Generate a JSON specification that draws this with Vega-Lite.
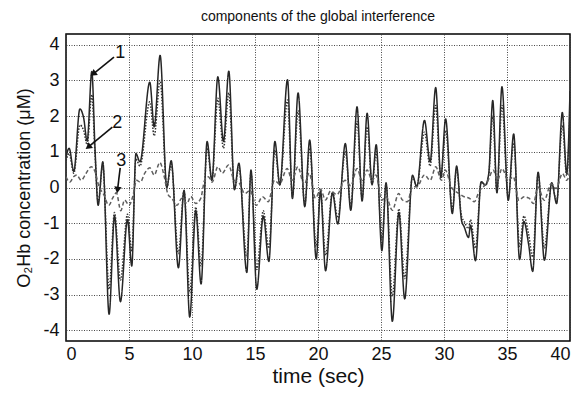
{
  "$schema": "https://vega.github.io/schema/vega-lite/v6.json",
  "autosize": {"type": "none"},
  "width": 504,
  "height": 307,
  "padding": {"left": 66, "top": 34, "right": 17, "bottom": 52},
  "background": "white",
  "title": {"text": "components of the global interference", "fontSize": 14, "font": "Liberation Sans", "fontWeight": "normal", "color": "#111", "offset": 10, "anchor": "middle"},
  "config": {
    "view": {"stroke": "black", "strokeWidth": 1.5},
    "axis": {"labelFont": "Liberation Sans", "titleFont": "Liberation Sans", "labelColor": "#111", "titleColor": "#111", "titleFontWeight": "normal", "gridColor": "#333", "gridDash": [1, 1.5], "gridWidth": 0.9, "gridOpacity": 1, "domain": false, "ticks": false, "labelOverlap": false},
    "axisX": {"grid": true, "tickCount": 12, "labelFontSize": 18, "labelPadding": 4, "titleFontSize": 21, "titlePadding": 2},
    "axisY": {"grid": true, "labelExpr": "'' + datum.value", "labelFontSize": 18, "labelPadding": 7, "titleFontSize": 18, "titlePadding": 9}
  },
  "datasets": {
    "lines": [
      {"t":0.0,"v":0.85,"s":"1"},{"t":0.25,"v":1.1,"s":"1"},{"t":0.62,"v":0.45,"s":"1"},{"t":1.1,"v":2.2,"s":"1"},{"t":1.4,"v":1.95,"s":"1"},{"t":1.68,"v":1.3,"s":"1"},{"t":2.05,"v":3.25,"s":"1"},{"t":2.3,"v":1.1,"s":"1"},{"t":2.55,"v":-0.5,"s":"1"},{"t":2.92,"v":0.72,"s":"1"},{"t":3.42,"v":-3.55,"s":"1"},{"t":3.85,"v":-0.8,"s":"1"},{"t":4.32,"v":-3.2,"s":"1"},{"t":4.88,"v":-0.9,"s":"1"},{"t":5.22,"v":-2.2,"s":"1"},{"t":5.55,"v":0.95,"s":"1"},{"t":5.87,"v":0.72,"s":"1"},{"t":6.65,"v":2.95,"s":"1"},{"t":7.0,"v":1.7,"s":"1"},{"t":7.47,"v":3.7,"s":"1"},{"t":8.0,"v":0.0,"s":"1"},{"t":8.35,"v":0.75,"s":"1"},{"t":8.92,"v":-2.25,"s":"1"},{"t":9.37,"v":-0.08,"s":"1"},{"t":9.82,"v":-3.63,"s":"1"},{"t":10.3,"v":-0.64,"s":"1"},{"t":10.72,"v":-2.7,"s":"1"},{"t":11.2,"v":1.29,"s":"1"},{"t":11.58,"v":0.2,"s":"1"},{"t":12.05,"v":3.1,"s":"1"},{"t":12.5,"v":1.29,"s":"1"},{"t":12.92,"v":3.26,"s":"1"},{"t":13.37,"v":-0.06,"s":"1"},{"t":13.72,"v":0.68,"s":"1"},{"t":14.35,"v":-2.38,"s":"1"},{"t":14.68,"v":0.49,"s":"1"},{"t":15.14,"v":-2.85,"s":"1"},{"t":15.66,"v":-0.8,"s":"1"},{"t":16.1,"v":-2.07,"s":"1"},{"t":16.58,"v":1.29,"s":"1"},{"t":16.97,"v":0.07,"s":"1"},{"t":17.58,"v":3.02,"s":"1"},{"t":17.97,"v":-0.31,"s":"1"},{"t":18.42,"v":2.65,"s":"1"},{"t":18.95,"v":-0.54,"s":"1"},{"t":19.34,"v":1.33,"s":"1"},{"t":19.86,"v":-2.0,"s":"1"},{"t":20.2,"v":-0.1,"s":"1"},{"t":20.6,"v":-2.33,"s":"1"},{"t":21.15,"v":-0.15,"s":"1"},{"t":21.57,"v":-1.02,"s":"1"},{"t":22.17,"v":1.23,"s":"1"},{"t":22.6,"v":-0.64,"s":"1"},{"t":23.1,"v":2.26,"s":"1"},{"t":23.5,"v":-0.38,"s":"1"},{"t":23.9,"v":2.08,"s":"1"},{"t":24.29,"v":0.08,"s":"1"},{"t":24.62,"v":1.2,"s":"1"},{"t":25.07,"v":-1.77,"s":"1"},{"t":25.4,"v":0.13,"s":"1"},{"t":25.9,"v":-3.75,"s":"1"},{"t":26.42,"v":-0.7,"s":"1"},{"t":26.88,"v":-3.12,"s":"1"},{"t":27.5,"v":0.34,"s":"1"},{"t":27.84,"v":0.02,"s":"1"},{"t":28.45,"v":1.88,"s":"1"},{"t":28.9,"v":0.72,"s":"1"},{"t":29.34,"v":2.8,"s":"1"},{"t":29.75,"v":0.3,"s":"1"},{"t":30.13,"v":1.92,"s":"1"},{"t":30.66,"v":-0.73,"s":"1"},{"t":31.0,"v":0.6,"s":"1"},{"t":31.39,"v":-0.92,"s":"1"},{"t":31.6,"v":-1.1,"s":"1"},{"t":31.95,"v":-1.4,"s":"1"},{"t":32.1,"v":-1.06,"s":"1"},{"t":32.5,"v":-2.05,"s":"1"},{"t":32.95,"v":0.16,"s":"1"},{"t":33.29,"v":0.07,"s":"1"},{"t":33.55,"v":0.39,"s":"1"},{"t":33.87,"v":2.44,"s":"1"},{"t":34.2,"v":-0.15,"s":"1"},{"t":34.6,"v":2.82,"s":"1"},{"t":35.1,"v":-0.36,"s":"1"},{"t":35.53,"v":1.5,"s":"1"},{"t":36.0,"v":-2.02,"s":"1"},{"t":36.34,"v":-0.95,"s":"1"},{"t":36.71,"v":-1.58,"s":"1"},{"t":37.04,"v":-2.35,"s":"1"},{"t":37.47,"v":0.43,"s":"1"},{"t":37.97,"v":-2.04,"s":"1"},{"t":38.55,"v":0.13,"s":"1"},{"t":38.94,"v":-0.45,"s":"1"},{"t":39.39,"v":2.1,"s":"1"},{"t":39.74,"v":0.39,"s":"1"},{"t":40.0,"v":2.7,"s":"1"},

      {"t":0.0,"v":0.75,"s":"2"},{"t":0.25,"v":0.95,"s":"2"},{"t":0.62,"v":0.4,"s":"2"},{"t":1.1,"v":1.75,"s":"2"},{"t":1.4,"v":1.6,"s":"2"},{"t":1.68,"v":1.2,"s":"2"},{"t":2.05,"v":2.6,"s":"2"},{"t":2.3,"v":0.95,"s":"2"},{"t":2.55,"v":-0.4,"s":"2"},{"t":2.92,"v":0.6,"s":"2"},{"t":3.42,"v":-2.85,"s":"2"},{"t":3.85,"v":-0.7,"s":"2"},{"t":4.32,"v":-2.6,"s":"2"},{"t":4.88,"v":-0.75,"s":"2"},{"t":5.22,"v":-1.8,"s":"2"},{"t":5.55,"v":0.8,"s":"2"},{"t":5.87,"v":0.6,"s":"2"},{"t":6.65,"v":2.4,"s":"2"},{"t":7.0,"v":1.45,"s":"2"},{"t":7.47,"v":3.0,"s":"2"},{"t":8.0,"v":0.0,"s":"2"},{"t":8.35,"v":0.65,"s":"2"},{"t":8.92,"v":-1.85,"s":"2"},{"t":9.37,"v":-0.1,"s":"2"},{"t":9.82,"v":-2.95,"s":"2"},{"t":10.3,"v":-0.55,"s":"2"},{"t":10.72,"v":-2.2,"s":"2"},{"t":11.2,"v":1.1,"s":"2"},{"t":11.58,"v":0.2,"s":"2"},{"t":12.05,"v":2.5,"s":"2"},{"t":12.5,"v":1.1,"s":"2"},{"t":12.92,"v":2.65,"s":"2"},{"t":13.37,"v":-0.05,"s":"2"},{"t":13.72,"v":0.55,"s":"2"},{"t":14.35,"v":-1.95,"s":"2"},{"t":14.68,"v":0.4,"s":"2"},{"t":15.14,"v":-2.3,"s":"2"},{"t":15.66,"v":-0.65,"s":"2"},{"t":16.1,"v":-1.7,"s":"2"},{"t":16.58,"v":1.05,"s":"2"},{"t":16.97,"v":0.1,"s":"2"},{"t":17.58,"v":2.45,"s":"2"},{"t":17.97,"v":-0.25,"s":"2"},{"t":18.42,"v":2.15,"s":"2"},{"t":18.95,"v":-0.45,"s":"2"},{"t":19.34,"v":1.1,"s":"2"},{"t":19.86,"v":-1.65,"s":"2"},{"t":20.2,"v":-0.1,"s":"2"},{"t":20.6,"v":-1.9,"s":"2"},{"t":21.15,"v":-0.12,"s":"2"},{"t":21.57,"v":-0.85,"s":"2"},{"t":22.17,"v":1.0,"s":"2"},{"t":22.6,"v":-0.5,"s":"2"},{"t":23.1,"v":1.85,"s":"2"},{"t":23.5,"v":-0.3,"s":"2"},{"t":23.9,"v":1.7,"s":"2"},{"t":24.29,"v":0.08,"s":"2"},{"t":24.62,"v":1.0,"s":"2"},{"t":25.07,"v":-1.45,"s":"2"},{"t":25.4,"v":0.1,"s":"2"},{"t":25.9,"v":-3.05,"s":"2"},{"t":26.42,"v":-0.6,"s":"2"},{"t":26.88,"v":-2.55,"s":"2"},{"t":27.5,"v":0.3,"s":"2"},{"t":27.84,"v":0.02,"s":"2"},{"t":28.45,"v":1.55,"s":"2"},{"t":28.9,"v":0.6,"s":"2"},{"t":29.34,"v":2.3,"s":"2"},{"t":29.75,"v":0.25,"s":"2"},{"t":30.13,"v":1.6,"s":"2"},{"t":30.66,"v":-0.6,"s":"2"},{"t":31.0,"v":0.5,"s":"2"},{"t":31.39,"v":-0.8,"s":"2"},{"t":31.6,"v":-0.95,"s":"2"},{"t":31.95,"v":-1.15,"s":"2"},{"t":32.1,"v":-0.9,"s":"2"},{"t":32.5,"v":-1.7,"s":"2"},{"t":32.95,"v":0.15,"s":"2"},{"t":33.29,"v":0.06,"s":"2"},{"t":33.55,"v":0.33,"s":"2"},{"t":33.87,"v":2.0,"s":"2"},{"t":34.2,"v":-0.12,"s":"2"},{"t":34.6,"v":2.3,"s":"2"},{"t":35.1,"v":-0.3,"s":"2"},{"t":35.53,"v":1.25,"s":"2"},{"t":36.0,"v":-1.65,"s":"2"},{"t":36.34,"v":-0.8,"s":"2"},{"t":36.71,"v":-1.3,"s":"2"},{"t":37.04,"v":-1.95,"s":"2"},{"t":37.47,"v":0.36,"s":"2"},{"t":37.97,"v":-1.7,"s":"2"},{"t":38.55,"v":0.12,"s":"2"},{"t":38.94,"v":-0.38,"s":"2"},{"t":39.39,"v":1.75,"s":"2"},{"t":39.74,"v":0.33,"s":"2"},{"t":40.0,"v":2.2,"s":"2"},

      {"t":0.0,"v":0.3,"s":"3"},{"t":0.3,"v":0.15,"s":"3"},{"t":0.6,"v":0.3,"s":"3"},{"t":0.85,"v":0.35,"s":"3"},{"t":1.2,"v":0.2,"s":"3"},{"t":1.6,"v":0.4,"s":"3"},{"t":2.0,"v":0.58,"s":"3"},{"t":2.3,"v":0.45,"s":"3"},{"t":2.6,"v":0.05,"s":"3"},{"t":3.0,"v":-0.2,"s":"3"},{"t":3.4,"v":-0.5,"s":"3"},{"t":3.7,"v":-0.3,"s":"3"},{"t":4.0,"v":-0.15,"s":"3"},{"t":4.35,"v":-0.65,"s":"3"},{"t":4.65,"v":-0.35,"s":"3"},{"t":5.0,"v":-0.5,"s":"3"},{"t":5.3,"v":-0.25,"s":"3"},{"t":5.6,"v":0.2,"s":"3"},{"t":5.9,"v":0.15,"s":"3"},{"t":6.25,"v":0.4,"s":"3"},{"t":6.65,"v":0.55,"s":"3"},{"t":7.0,"v":0.35,"s":"3"},{"t":7.45,"v":0.7,"s":"3"},{"t":7.8,"v":0.3,"s":"3"},{"t":8.1,"v":-0.2,"s":"3"},{"t":8.4,"v":-0.3,"s":"3"},{"t":8.8,"v":-0.5,"s":"3"},{"t":9.2,"v":-0.3,"s":"3"},{"t":9.6,"v":-0.45,"s":"3"},{"t":9.9,"v":-0.25,"s":"3"},{"t":10.3,"v":-0.45,"s":"3"},{"t":10.7,"v":-0.3,"s":"3"},{"t":11.0,"v":0.2,"s":"3"},{"t":11.3,"v":0.3,"s":"3"},{"t":11.6,"v":0.15,"s":"3"},{"t":12.05,"v":0.58,"s":"3"},{"t":12.4,"v":0.4,"s":"3"},{"t":12.9,"v":0.63,"s":"3"},{"t":13.35,"v":0.2,"s":"3"},{"t":13.7,"v":0.15,"s":"3"},{"t":14.2,"v":-0.17,"s":"3"},{"t":14.6,"v":-0.08,"s":"3"},{"t":15.1,"v":-0.5,"s":"3"},{"t":15.6,"v":-0.26,"s":"3"},{"t":16.05,"v":-0.4,"s":"3"},{"t":16.55,"v":0.2,"s":"3"},{"t":16.95,"v":0.1,"s":"3"},{"t":17.55,"v":0.53,"s":"3"},{"t":17.95,"v":0.2,"s":"3"},{"t":18.4,"v":0.58,"s":"3"},{"t":18.9,"v":0.07,"s":"3"},{"t":19.3,"v":0.4,"s":"3"},{"t":19.8,"v":-0.3,"s":"3"},{"t":20.2,"v":-0.05,"s":"3"},{"t":20.6,"v":-0.35,"s":"3"},{"t":21.0,"v":-0.1,"s":"3"},{"t":21.5,"v":-0.2,"s":"3"},{"t":22.15,"v":0.2,"s":"3"},{"t":22.6,"v":0.05,"s":"3"},{"t":23.1,"v":0.53,"s":"3"},{"t":23.5,"v":0.2,"s":"3"},{"t":23.9,"v":0.49,"s":"3"},{"t":24.3,"v":0.2,"s":"3"},{"t":24.6,"v":0.35,"s":"3"},{"t":25.05,"v":-0.36,"s":"3"},{"t":25.4,"v":-0.25,"s":"3"},{"t":25.9,"v":-0.64,"s":"3"},{"t":26.4,"v":-0.17,"s":"3"},{"t":26.7,"v":-0.35,"s":"3"},{"t":27.1,"v":-0.4,"s":"3"},{"t":27.5,"v":0.02,"s":"3"},{"t":27.85,"v":0.02,"s":"3"},{"t":28.45,"v":0.35,"s":"3"},{"t":28.9,"v":0.2,"s":"3"},{"t":29.35,"v":0.58,"s":"3"},{"t":29.8,"v":0.2,"s":"3"},{"t":30.1,"v":0.49,"s":"3"},{"t":30.6,"v":0.0,"s":"3"},{"t":31.2,"v":-0.17,"s":"3"},{"t":31.6,"v":-0.26,"s":"3"},{"t":32.0,"v":-0.3,"s":"3"},{"t":32.4,"v":-0.4,"s":"3"},{"t":32.8,"v":-0.1,"s":"3"},{"t":33.2,"v":0.05,"s":"3"},{"t":33.5,"v":0.2,"s":"3"},{"t":33.9,"v":0.49,"s":"3"},{"t":34.25,"v":0.2,"s":"3"},{"t":34.6,"v":0.53,"s":"3"},{"t":35.1,"v":0.2,"s":"3"},{"t":35.5,"v":0.3,"s":"3"},{"t":35.95,"v":-0.36,"s":"3"},{"t":36.35,"v":-0.26,"s":"3"},{"t":36.75,"v":-0.3,"s":"3"},{"t":37.1,"v":-0.45,"s":"3"},{"t":37.45,"v":0.02,"s":"3"},{"t":37.95,"v":-0.36,"s":"3"},{"t":38.5,"v":0.1,"s":"3"},{"t":38.9,"v":-0.03,"s":"3"},{"t":39.4,"v":0.39,"s":"3"},{"t":39.75,"v":0.2,"s":"3"},{"t":40.0,"v":0.49,"s":"3"}
    ],
    "arrows": [
      {"t1":3.81,"v1":3.65,"t2":2.22,"v2":3.2,"lt":4.3,"lv":3.78,"label":"1","ang":234},
      {"t1":3.68,"v1":1.69,"t2":1.83,"v2":1.15,"lt":4.07,"lv":1.8,"label":"2","ang":233},
      {"t1":4.3,"v1":0.55,"t2":4.1,"v2":-0.04,"lt":4.38,"lv":0.75,"label":"3","ang":188}
    ]
  },
  "layer": [
    {
      "data": {"name": "lines"},
      "mark": {"type": "line", "interpolate": "monotone", "strokeWidth": 1.5, "clip": true},
      "encoding": {
        "x": {"field": "t", "type": "quantitative", "scale": {"domain": [0, 40], "nice": false}, "title": "time (sec)", "axis": {"values": [0,5,10,15,20,25,30,35,40], "tickCount": 12}},
        "y": {"field": "v", "type": "quantitative", "scale": {"domain": [-4.3, 4.3], "nice": false, "zero": false}, "title": "O₂Hb concentration (μM)"},
        "color": {"field": "s", "type": "nominal", "scale": {"domain": ["1","2","3"], "range": ["#262626","#303030","#5e5e5e"]}, "legend": null},
        "strokeDash": {"field": "s", "type": "nominal", "scale": {"domain": ["1","2","3"], "range": [[1,0],[1.5,1.5],[4,2.5]]}, "legend": null},
        "order": {"field": "t", "type": "quantitative"}
      }
    },
    {
      "data": {"name": "arrows"},
      "mark": {"type": "rule", "color": "#111", "strokeWidth": 1.6},
      "encoding": {
        "x": {"field": "t1", "type": "quantitative", "title": "time (sec)"},
        "y": {"field": "v1", "type": "quantitative", "title": "O₂Hb concentration (μM)"},
        "x2": {"field": "t2"},
        "y2": {"field": "v2"}
      }
    },
    {
      "data": {"name": "arrows"},
      "mark": {"type": "point", "shape": "triangle", "filled": true, "color": "#111", "size": 55, "opacity": 1},
      "encoding": {
        "x": {"field": "t2", "type": "quantitative", "title": "time (sec)"},
        "y": {"field": "v2", "type": "quantitative", "title": "O₂Hb concentration (μM)"},
        "angle": {"field": "ang", "type": "quantitative", "scale": null}
      }
    },
    {
      "data": {"name": "arrows"},
      "mark": {"type": "text", "font": "Liberation Sans", "fontSize": 18, "color": "#111", "align": "center", "baseline": "middle"},
      "encoding": {
        "x": {"field": "lt", "type": "quantitative", "title": "time (sec)"},
        "y": {"field": "lv", "type": "quantitative", "title": "O₂Hb concentration (μM)"},
        "text": {"field": "label"}
      }
    }
  ]
}
